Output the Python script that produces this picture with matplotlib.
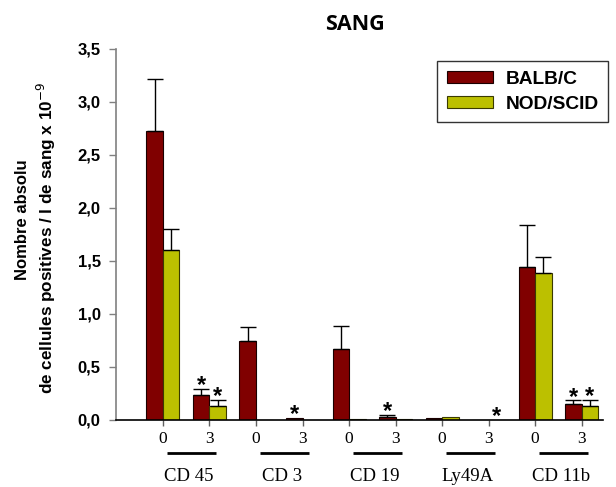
import matplotlib
matplotlib.use("Agg")
import matplotlib.pyplot as plt
import matplotlib.transforms as mtransforms
from matplotlib.patches import Patch
import numpy as np

groups = ["CD 45", "CD 3", "CD 19", "Ly49A", "CD 11b"]
times = ["0", "3"]
series = ["BALB/C", "NOD/SCID"]
balb = [2.72, 0.235, 0.745, 0.016, 0.67, 0.028, 0.012, 0.0, 1.44, 0.148]
balb_err = [0.49, 0.055, 0.125, 0.0, 0.21, 0.017, 0.0, 0.0, 0.40, 0.034]
nod = [1.60, 0.13, 0.0, 0.0, 0.005, 0.003, 0.028, 0.0, 1.38, 0.13]
nod_err = [0.20, 0.06, 0.0, 0.0, 0.0, 0.0, 0.0, 0.0, 0.155, 0.06]
star_balb = [False, True, False, True, False, True, False, False, False, True]
star_nod = [False, True, False, False, False, False, False, True, False, True]
yticks = [0.0, 0.5, 1.0, 1.5, 2.0, 2.5, 3.0, 3.5]

c_balb = "#800000"
c_nod = "#BCC000"

W, H = 616, 487
fig = plt.figure(figsize=(W / 100, H / 100), dpi=100)
ax = fig.add_axes([116 / W, 1 - 419.7 / H, (603 - 116) / W, (419.7 - 48.7) / H])

n = len(balb)
x = np.arange(n)
w = 0.355
ax.bar(x - w / 2, balb, width=w, color=c_balb, edgecolor="#1a0000", linewidth=0.8, zorder=2)
ax.bar(x + w / 2, nod, width=w, color=c_nod, edgecolor="#3a3a00", linewidth=0.8, zorder=2)

for xs, vals, errs in [(x - w / 2, balb, balb_err), (x + w / 2, nod, nod_err)]:
    for xi, v, e in zip(xs, vals, errs):
        if e > 0:
            ax.errorbar([xi], [v], yerr=[[0], [e]], fmt="none", ecolor="black",
                        elinewidth=1.0, capsize=5.5, capthick=1.0, zorder=3)

for xs, vals, errs, stars in [(x - w / 2, balb, balb_err, star_balb),
                              (x + w / 2, nod, nod_err, star_nod)]:
    for xi, v, e, s in zip(xs, vals, errs, stars):
        if s:
            ax.annotate("*", (xi, v + e), xytext=(0, -6), textcoords="offset points",
                        ha="center", va="bottom", fontsize=17, fontweight="bold",
                        family="Liberation Sans", zorder=4, annotation_clip=False)

ax.set_xlim(-1.01, 9.46)
ax.set_ylim(0, 3.5)
ax.set_yticks(yticks)
ax.set_yticklabels([f"{t:.1f}".replace(".", ",") for t in yticks],
                   fontsize=12, fontweight="bold", family="Liberation Sans")
ax.set_xticks(x)
ax.set_xticklabels([times[i % 2] for i in range(n)], fontsize=12.5, family="Liberation Serif")
ax.tick_params(axis="x", length=4, width=1, color="#606060", pad=4)
ax.tick_params(axis="y", length=5, width=1, color="#808080", pad=6)
for s in ["top", "right"]:
    ax.spines[s].set_visible(False)
ax.spines["left"].set_color("#808080")
ax.spines["left"].set_linewidth(1.2)
ax.spines["bottom"].set_color("black")
ax.spines["bottom"].set_linewidth(1.2)

trans = mtransforms.blended_transform_factory(ax.transData, ax.transAxes)
for g, name in enumerate(groups):
    x0 = 2 * g + 0.08
    x1 = 2 * g + 1 + 0.13
    ax.plot([x0, x1], [-0.0894, -0.0894], transform=trans, color="black", lw=2.0,
            clip_on=False, solid_capstyle="butt")
    ax.text(2 * g + 0.55, -0.152, name, transform=trans, ha="center", va="center",
            fontsize=13.5, family="Liberation Serif")

fig.text(23 / W, 1 - 220 / H, "Nombre absolu", rotation=90, ha="center", va="center",
         fontsize=12, fontweight="bold", family="Liberation Sans")
fig.text(46 / W, 1 - 238 / H, "de cellules positives / l de sang x 10$^{-9}$", rotation=90,
         ha="center", va="center", fontsize=12.3, fontweight="bold", family="Liberation Sans")

fig.text(355 / W, 1 - 24 / H, "SANG", ha="center", va="center", fontsize=15.5,
         fontweight="bold", family="Open Sans")

handles = [Patch(facecolor=c_balb, edgecolor="#1a0000", lw=0.8),
           Patch(facecolor=c_nod, edgecolor="#3a3a00", lw=0.8)]
leg = fig.legend(handles, series, loc="upper right", bbox_to_anchor=(608 / W, 1 - 61 / H),
                 bbox_transform=fig.transFigure, borderaxespad=0, frameon=True, fancybox=False,
                 handlelength=2.4, handleheight=0.55, handletextpad=0.65, labelspacing=0.42,
                 borderpad=0.5, prop={"family": "Liberation Sans", "weight": "bold", "size": 13.8})
leg.get_frame().set_edgecolor("black")
leg.get_frame().set_linewidth(1.0)

fig.savefig("out.png", dpi=100)
